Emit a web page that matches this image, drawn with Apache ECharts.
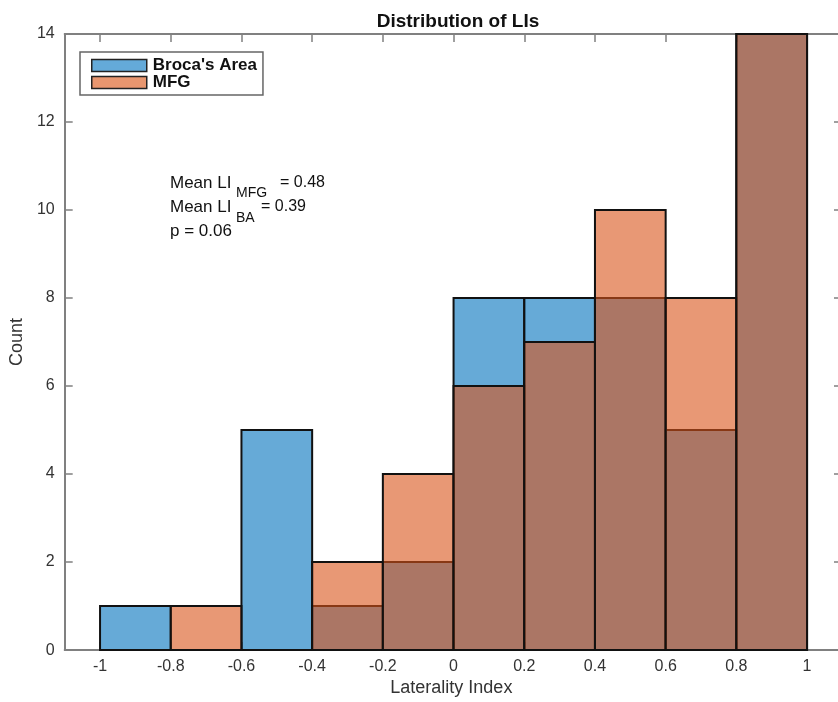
<!DOCTYPE html>
<html lang="en">

<head>
    <meta charset="UTF-8">
    <title>Distribution of LIs</title>
</head>

<body style="margin:0">
    <div id="main" style="width: 838px;height:702px;"></div>

    <script src="https://cdn.jsdelivr.net/npm/echarts@6/dist/echarts.min.js"></script>
    <script>
        // bin edges of the histogram and counts per bin
        const binEdges = [-1, -0.8, -0.6, -0.4, -0.2, 0, 0.2, 0.4, 0.6, 0.8, 1];
        const brocaCounts = [1, 0, 5, 1, 2, 8, 8, 8, 5, 14];
        const mfgCounts = [0, 1, 0, 2, 4, 6, 7, 10, 8, 14];
        const xTicks = [-1, -0.8, -0.6, -0.4, -0.2, 0, 0.2, 0.4, 0.6, 0.8, 1];
        const xTickLabels = ['-1', '-0.8', '-0.6', '-0.4', '-0.2', '0', '0.2', '0.4', '0.6', '0.8', '1'];

        const FONT = 'Liberation Sans';
        const chart = echarts.init(document.getElementById('main'));

        function toBins(counts) {
            return counts.map((c, i) => [binEdges[i], binEdges[i + 1], c]);
        }

        function renderBin(fill) {
            return function (params, api) {
                const count = api.value(2);
                if (!count) return;
                const p0 = api.coord([api.value(0), 0]);
                const p1 = api.coord([api.value(1), count]);
                return {
                    type: 'rect',
                    shape: { x: p0[0], y: p1[1], width: p1[0] - p0[0], height: p0[1] - p1[1] },
                    style: { fill: fill, stroke: '#111', lineWidth: 2 }
                };
            };
        }

        const axisColor = '#808080';
        const tickLabel = { color: '#333', fontFamily: FONT, fontSize: 16 };
        // the original figure is cropped a little before its right border
        const xMin = -1.1, xMax = 1.0875;

        option = {
            animation: false,
            title: {
                text: 'Distribution of LIs',
                left: 453,
                top: 7,
                textAlign: 'center',
                textStyle: { fontFamily: FONT, fontSize: 19, fontWeight: 'bold', color: '#111' }
            },
            grid: { left: 63, right: 0, top: 34, bottom: 51 },
            legend: {
                orient: 'vertical',
                left: 80,
                top: 52,
                padding: [5, 6, 4, 11],
                itemGap: 0,
                itemWidth: 55,
                itemHeight: 12,
                icon: 'rect',
                backgroundColor: '#fff',
                borderColor: '#666',
                borderWidth: 1.5,
                borderRadius: 0,
                textStyle: { fontFamily: FONT, fontSize: 17, fontWeight: 'bold', color: '#111', lineHeight: 16, padding: [0, 0, 0, 1] },
                data: [
                    { name: "Broca's Area", itemStyle: { color: '#64aad9', borderColor: '#222', borderWidth: 1.5 } },
                    { name: 'MFG', itemStyle: { color: '#e8966f', borderColor: '#222', borderWidth: 1.5 } }
                ]
            },
            xAxis: [{
                type: 'value',
                min: xMin,
                max: xMax,
                name: 'Laterality Index',
                nameLocation: 'middle',
                nameGap: 28,
                nameTextStyle: { fontFamily: FONT, fontSize: 18, color: '#333' },
                axisLine: { onZero: false, lineStyle: { color: axisColor, width: 2 } },
                axisTick: { inside: true, length: 8, customValues: xTicks, lineStyle: { color: axisColor, width: 1.5 } },
                axisLabel: Object.assign({
                    margin: 8,
                    customValues: xTicks,
                    formatter: v => xTickLabels[xTicks.findIndex(t => Math.abs(t - v) < 1e-9)]
                }, tickLabel),
                splitLine: { show: false }
            }, {
                type: 'value',
                position: 'top',
                min: xMin,
                max: xMax,
                axisLine: { onZero: false, lineStyle: { color: axisColor, width: 2 } },
                axisTick: { inside: true, length: 8, customValues: xTicks, lineStyle: { color: axisColor, width: 1.5 } },
                axisLabel: { show: false },
                splitLine: { show: false }
            }],
            yAxis: [{
                type: 'value',
                min: 0,
                max: 14,
                interval: 2,
                name: 'Count',
                nameLocation: 'middle',
                nameGap: 33,
                nameTextStyle: { fontFamily: FONT, fontSize: 18, color: '#333' },
                axisLine: { show: true, onZero: false, lineStyle: { color: axisColor, width: 2 } },
                axisTick: { show: true, inside: true, length: 8, lineStyle: { color: axisColor, width: 1.5 } },
                axisLabel: Object.assign({ margin: 10 }, tickLabel),
                splitLine: { show: false }
            }, {
                type: 'value',
                position: 'right',
                min: 0,
                max: 14,
                interval: 2,
                axisLine: { show: false, onZero: false },
                axisTick: { show: true, inside: true, length: 4, lineStyle: { color: axisColor, width: 1.5 } },
                axisLabel: { show: false },
                splitLine: { show: false }
            }],
            graphic: [
                { type: 'text', left: 170, top: 175, style: { text: 'Mean LI', font: '17px ' + FONT, fill: '#111' } },
                { type: 'text', left: 236, top: 186, style: { text: 'MFG', font: '14px ' + FONT, fill: '#111' } },
                { type: 'text', left: 280, top: 175, style: { text: '= 0.48', font: '16px ' + FONT, fill: '#111' } },
                { type: 'text', left: 170, top: 199, style: { text: 'Mean LI', font: '17px ' + FONT, fill: '#111' } },
                { type: 'text', left: 236, top: 211, style: { text: 'BA', font: '14px ' + FONT, fill: '#111' } },
                { type: 'text', left: 261, top: 199, style: { text: '= 0.39', font: '16px ' + FONT, fill: '#111' } },
                { type: 'text', left: 170, top: 223, style: { text: 'p = 0.06', font: '17px ' + FONT, fill: '#111' } }
            ],
            series: [{
                name: "Broca's Area",
                type: 'custom',
                renderItem: renderBin('rgba(0,114,189,0.6)'),
                itemStyle: { color: '#64aad9' },
                encode: { x: [0, 1], y: 2 },
                data: toBins(brocaCounts)
            }, {
                name: 'MFG',
                type: 'custom',
                renderItem: renderBin('rgba(217,83,25,0.6)'),
                itemStyle: { color: '#e8966f' },
                encode: { x: [0, 1], y: 2 },
                data: toBins(mfgCounts)
            }]
        };

        chart.setOption(option);
    </script>
</body>

</html>
